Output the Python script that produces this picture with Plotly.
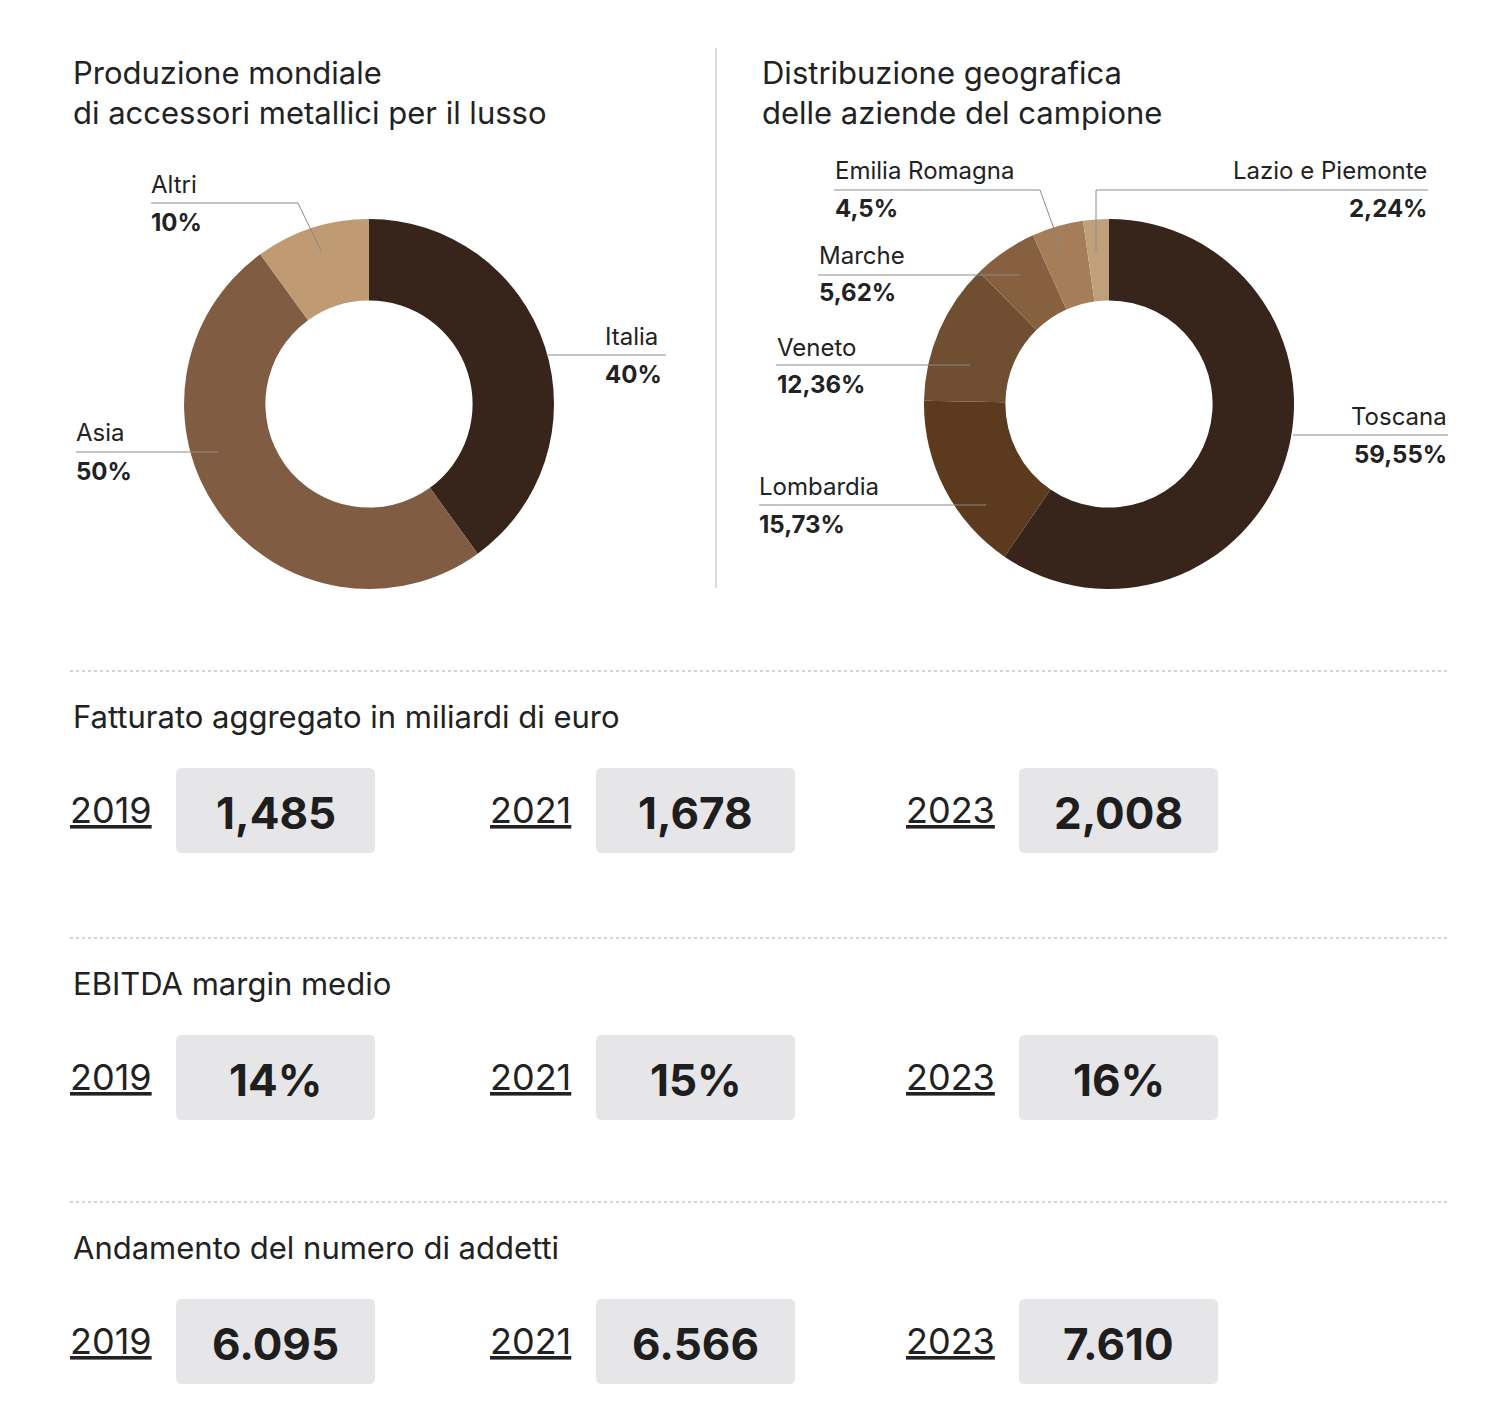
import plotly.graph_objects as go

W, H = 1500, 1417
FONT = "Inter"

prod_labels = ["Italia", "Asia", "Altri"]
prod_values = [40, 50, 10]
prod_text = ["40%", "50%", "10%"]
prod_colors = ["#37241a", "#805d42", "#bf9a72"]

geo_labels = ["Toscana", "Lombardia", "Veneto", "Marche", "Emilia Romagna", "Lazio e Piemonte"]
geo_values = [59.55, 15.73, 12.36, 5.62, 4.5, 2.24]
geo_text = ["59,55%", "15,73%", "12,36%", "5,62%", "4,5%", "2,24%"]
geo_colors = ["#37241a", "#5b3a1d", "#6f4e31", "#87603f", "#a57d58", "#c0a07a"]

years = ["2019", "2021", "2023"]
fatturato = ["1,485", "1,678", "2,008"]
ebitda = ["14%", "15%", "16%"]
addetti = ["6.095", "6.566", "7.610"]
section_titles = ["Fatturato aggregato in miliardi di euro", "EBITDA margin medio",
                  "Andamento del numero di addetti"]


def px(x):
    return x / W


def py(y):
    return 1 - y / H


fig = go.Figure()


def add_pie(labels, values, colors, cx):
    fig.add_trace(go.Pie(
        labels=labels, values=values, hole=0.56, sort=False, direction="clockwise",
        rotation=0, marker=dict(colors=colors, line=dict(width=0)),
        textinfo="none", hoverinfo="label+value", showlegend=False,
        domain=dict(x=[px(cx - 185), px(cx + 185)], y=[py(581), py(211)])))


add_pie(prod_labels, prod_values, prod_colors, 361)
add_pie(geo_labels, geo_values, geo_colors, 1101)

shapes = []
ann = []
LC = "#8a8a8a"


def line(pts):
    path = "M " + " L ".join(f"{px(x)},{py(y)}" for x, y in pts)
    shapes.append(dict(type="path", path=path, xref="paper", yref="paper",
                       line=dict(color=LC, width=1)))


def lab(x, y_name, name, value, anchor="left"):
    ann.append(dict(x=px(x), y=py(y_name), text=name, xanchor=anchor, yanchor="middle",
                    font=dict(family=FONT, size=24, color="#222"), showarrow=False))
    ann.append(dict(x=px(x), y=py(y_name + 38), text=f"<b>{value}</b>", xanchor=anchor,
                    yanchor="middle", font=dict(family=FONT, size=24, color="#222"),
                    showarrow=False))


# Pie 1 labels
line([(143, 195), (290, 195), (313, 243)])
lab(141, 176, prod_labels[2], prod_text[2])
line([(540, 347), (658, 347)])
lab(595, 328, prod_labels[0], prod_text[0])
line([(68, 444), (210, 444)])
lab(66, 425, prod_labels[1], prod_text[1])

# Pie 2 labels
line([(826, 182), (1032, 182), (1054, 243)])
lab(825, 162, geo_labels[4], geo_text[4])
line([(1088, 243), (1088, 182), (1420, 182)])
lab(1421, 162, geo_labels[5], geo_text[5], "right")
line([(810, 267), (1012, 267)])
lab(809, 247, geo_labels[3], geo_text[3])
line([(768, 357), (962, 357)])
lab(767, 339, geo_labels[2], geo_text[2])
line([(751, 497), (978, 497)])
lab(749, 478, geo_labels[1], geo_text[1])
line([(1285, 427), (1440, 427)])
lab(1441, 408, geo_labels[0], geo_text[0], "right")

# Titles
for x, t in [(63, "Produzione mondiale<br>di accessori metallici per il lusso"),
             (752, "Distribuzione geografica<br>delle aziende del campione")]:
    ann.append(dict(x=px(x), y=py(44), text=t, xanchor="left", yanchor="top", align="left",
                    font=dict(family=FONT, size=31, color="#222"), showarrow=False))

# Divider
shapes.append(dict(type="line", x0=px(708), x1=px(708), y0=py(40), y1=py(580),
                   xref="paper", yref="paper", line=dict(color="#bbbbbb", width=1)))

# Sections
sections = [(663, fatturato), (930, ebitda), (1194, addetti)]
box_x = [(168, 367), (588, 787), (1011, 1210)]
year_x = [103, 522, 942]


def rbox(x0, y0, x1, y1, r=6):
    p = (f"M {px(x0+r)},{py(y0)} L {px(x1-r)},{py(y0)} Q {px(x1)},{py(y0)} {px(x1)},{py(y0+r)} "
         f"L {px(x1)},{py(y1-r)} Q {px(x1)},{py(y1)} {px(x1-r)},{py(y1)} "
         f"L {px(x0+r)},{py(y1)} Q {px(x0)},{py(y1)} {px(x0)},{py(y1-r)} "
         f"L {px(x0)},{py(y0+r)} Q {px(x0)},{py(y0)} {px(x0+r)},{py(y0)} Z")
    shapes.append(dict(type="path", path=p, xref="paper", yref="paper",
                       fillcolor="#e6e6e8", line=dict(width=0), layer="below"))


for (ly, vals), title in zip(sections, section_titles):
    shapes.append(dict(type="line", x0=px(62), x1=px(1442), y0=py(ly), y1=py(ly),
                       xref="paper", yref="paper", line=dict(color="#aaaaaa", width=1, dash="dot")))
    ann.append(dict(x=px(63), y=py(ly + 45), text=title, xanchor="left", yanchor="middle",
                    font=dict(family=FONT, size=31, color="#222"), showarrow=False))
    top = ly + 97
    for (bx0, bx1), yx, yr, v in zip(box_x, year_x, years, vals):
        rbox(bx0, top, bx1, top + 85)
        ann.append(dict(x=px(yx), y=py(top + 42), text=f"<u>{yr}</u>", xanchor="center",
                        yanchor="middle", font=dict(family=FONT, size=36, color="#222"),
                        showarrow=False))
        ann.append(dict(x=px((bx0 + bx1) / 2), y=py(top + 45), text=f"<b>{v}</b>",
                        xanchor="center", yanchor="middle",
                        font=dict(family=FONT, size=44, color="#1e1e1e"), showarrow=False))

fig.update_layout(width=W, height=H, margin=dict(l=0, r=0, t=0, b=0),
                  paper_bgcolor="white", plot_bgcolor="white",
                  shapes=shapes, annotations=ann, font=dict(family=FONT))
fig.write_html("out.html")
